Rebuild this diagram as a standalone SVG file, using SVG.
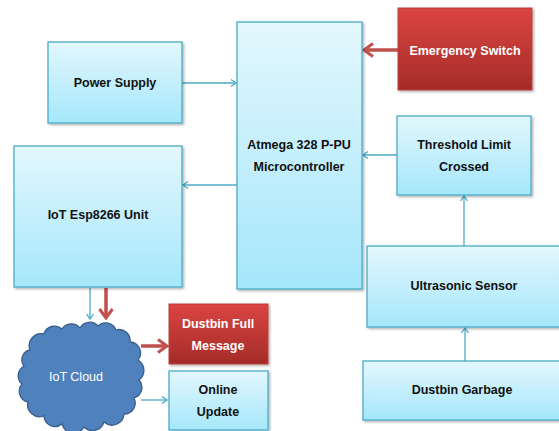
<svg xmlns="http://www.w3.org/2000/svg" width="559" height="431" viewBox="0 0 559 431">
<defs>
<linearGradient id="gb" x1="0" y1="0" x2="0" y2="1"><stop offset="0" stop-color="#e3f7fd"/><stop offset="1" stop-color="#a5e7fb"/></linearGradient>
<linearGradient id="gr" x1="0" y1="0" x2="0" y2="1"><stop offset="0" stop-color="#da4541"/><stop offset="1" stop-color="#a52b29"/></linearGradient>
<filter id="sh" x="-10%" y="-10%" width="130%" height="130%"><feDropShadow dx="1.5" dy="1.5" stdDeviation="1.2" flood-color="#000" flood-opacity="0.3"/></filter>
<marker id="ab" markerWidth="10" markerHeight="10" refX="7" refY="5" orient="auto" markerUnits="userSpaceOnUse"><path d="M2,1.5 L7,5 L2,8.5" fill="none" stroke="#4bacc6" stroke-width="1.3"/></marker>
<marker id="ar" markerWidth="16" markerHeight="16" refX="12" refY="8" orient="auto" markerUnits="userSpaceOnUse"><path d="M3,1.5 L12,8 L3,14.5" fill="none" stroke="#c0504d" stroke-width="3"/></marker>
</defs>
<style>
.b{fill:url(#gb);stroke:#4bacc6;stroke-width:1.3;filter:url(#sh)}
.r{fill:url(#gr);stroke:#b8403c;stroke-width:1;filter:url(#sh)}
.t{font-family:"Liberation Sans",Arial,sans-serif;font-weight:bold;font-size:12.5px;fill:#111;text-anchor:middle}
.w{fill:#fff}
.lb{stroke:#4bacc6;stroke-width:1.3;fill:none;marker-end:url(#ab)}
.lr{stroke:#c0504d;stroke-width:3.5;fill:none;marker-end:url(#ar)}
</style>
<rect width="559" height="431" fill="#fff"/>
<g id="connectors">
<line class="lb" x1="182" y1="83" x2="236" y2="83"/>
<line class="lr" x1="398" y1="50" x2="364" y2="50"/>
<line class="lb" x1="397" y1="155" x2="363" y2="155"/>
<line class="lb" x1="237" y1="185" x2="183" y2="185"/>
<line class="lb" x1="464" y1="246" x2="464" y2="196"/>
<line class="lb" x1="465" y1="361" x2="465" y2="328"/>
<line class="lb" x1="90" y1="288" x2="90" y2="319"/>
<line class="lr" x1="106" y1="288" x2="106" y2="318"/>
<line class="lr" x1="141" y1="346" x2="167" y2="346"/>
<line class="lb" x1="141" y1="400" x2="167" y2="400"/>
</g>
<g id="power"><rect class="b" x="48" y="42" width="134" height="81"/><text class="t" x="115" y="87">Power Supply</text></g>
<g id="atmega"><rect class="b" x="237" y="22" width="125" height="267"/><text class="t" x="299" y="149">Atmega 328 P-PU</text><text class="t" x="299" y="171">Microcontroller</text></g>
<g id="emergency"><rect class="r" x="398" y="8" width="134" height="82"/><text class="t w" x="465" y="55">Emergency Switch</text></g>
<g id="threshold"><rect class="b" x="397" y="116" width="134" height="79"/><text class="t" x="464" y="149">Threshold Limit</text><text class="t" x="464" y="171">Crossed</text></g>
<g id="esp"><rect class="b" x="14" y="146" width="168" height="141"/><text class="t" x="98" y="219">IoT Esp8266 Unit</text></g>
<g id="ultrasonic"><rect class="b" x="367" y="246" width="200" height="81"/><text class="t" x="464" y="290">Ultrasonic Sensor</text></g>
<g id="garbage"><rect class="b" x="363" y="361" width="204" height="59"/><text class="t" x="462" y="394">Dustbin Garbage</text></g>
<g id="fullmsg"><rect class="r" x="169" y="304" width="99" height="60"/><text class="t w" x="218" y="328">Dustbin Full</text><text class="t w" x="218" y="350">Message</text></g>
<g id="online"><rect class="b" x="169" y="371" width="99" height="59"/><text class="t" x="218" y="394">Online</text><text class="t" x="218" y="416">Update</text></g>
<g id="cloud"><path d="M30,350 A12,12 0 0 1 44,334 A11,11 0 0 1 62,329 A11,11 0 0 1 80,328 A11,11 0 0 1 98,326 A11,11 0 0 1 116,330 A11,11 0 0 1 130,342 A11,11 0 0 1 138,360 A12,12 0 0 1 139,380 A11,11 0 0 1 134,398 A11,11 0 0 1 124,414 A12,12 0 0 1 104,422 A12,12 0 0 1 84,427 A12,12 0 0 1 62,424 A11,11 0 0 1 44,416 A12,12 0 0 1 28,402 A11,11 0 0 1 22,384 A11,11 0 0 1 24,366 A10,10 0 0 1 30,350 Z" fill="#4f81bd" stroke="#385d8a" stroke-width="1.3"/><text x="76" y="381" font-family="Liberation Sans,Arial,sans-serif" font-size="12.5" fill="#fff" text-anchor="middle">IoT Cloud</text></g>
</svg>
